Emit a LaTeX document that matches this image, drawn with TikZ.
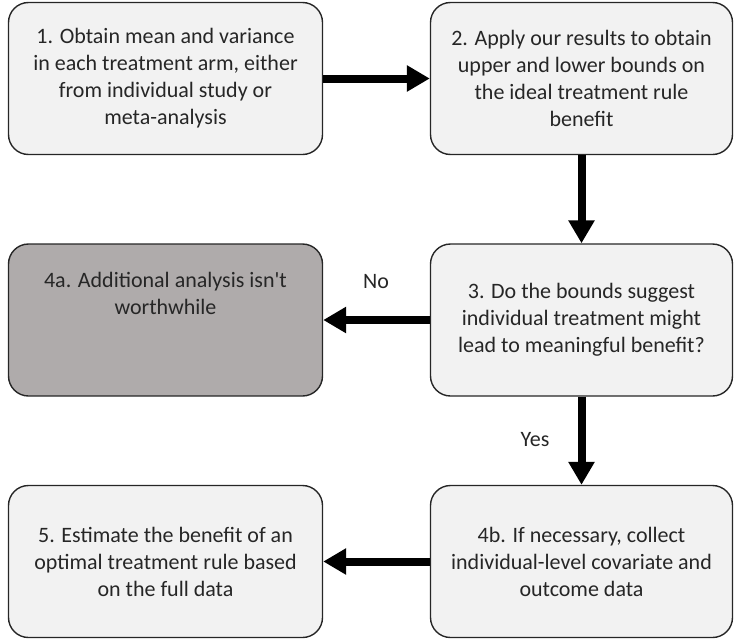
\documentclass[tikz,border=0pt]{standalone}
\usepackage{fontspec}
\setmainfont{Carlito}
\usetikzlibrary{arrows.meta}
\definecolor{boxfill}{RGB}{242,242,242}
\definecolor{darkfill}{RGB}{175,171,171}
\begin{document}
\begin{tikzpicture}[x=1pt,y=-1pt,
  stepbox/.style={draw=black!85, line width=1.4pt, rounded corners=20pt, fill=boxfill,
    minimum height=152pt, align=center, inner sep=0pt,
    font=\fontsize{22}{27}\selectfont, text=black!85},
  leftbox/.style={stepbox, minimum width=314pt},
  rightbox/.style={stepbox, minimum width=302pt},
  darkbox/.style={leftbox, fill=darkfill},
  flow/.style={line width=8pt, -{Triangle[width=25pt,length=23pt]}},
  lbl/.style={font=\fontsize{22}{27}\selectfont, text=black!85}]
\useasboundingbox (0,0) rectangle (735,640);
\node[leftbox] (s1) at (165.5,78.5) {1. Obtain mean and variance\\in each treatment arm, either\\from individual study or\\meta-analysis};
\node[rightbox] (s2) at (581.5,78.5) {2. Apply our results to obtain\\upper and lower bounds on\\the ideal treatment rule\\benefit};
\node[rightbox] (s3) at (581.5,320) {3. Do the bounds suggest\\individual treatment might\\lead to meaningful benefit?};
\node[darkbox] (s4a) at (165.5,320) {4a. Additional analysis isn\textquotesingle t\\worthwhile\\[27pt]};
\node[rightbox] (s4b) at (581.5,561.5) {4b. If necessary, collect\\individual-level covariate and\\outcome data};
\node[leftbox] (s5) at (165.5,561.5) {5. Estimate the benefit of an\\optimal treatment rule based\\on the full data};
\draw[flow] (s1) -- (s2);
\draw[flow] (s2) -- (s3);
\draw[flow] (s3) -- (s4a);
\draw[flow] (s3) -- (s4b);
\draw[flow] (s4b) -- (s5);
\node[lbl] (no) at (376,282) {No};
\node[lbl] (yes) at (535,440) {Yes};
\end{tikzpicture}
\end{document}
